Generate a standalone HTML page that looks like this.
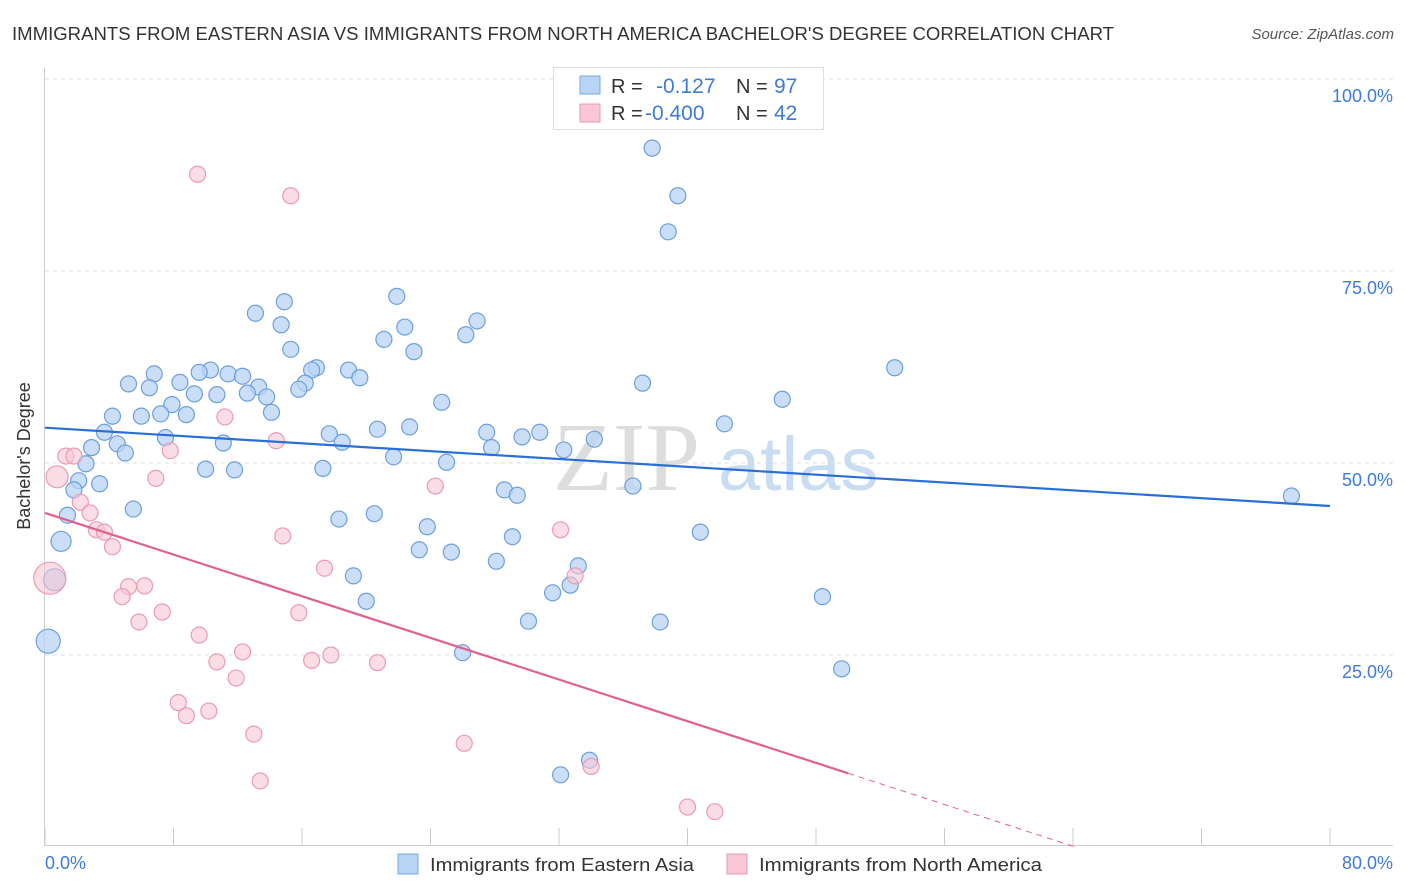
<!DOCTYPE html>
<html><head><meta charset="utf-8"><style>
body{margin:0;background:#fff;font-family:"Liberation Sans",sans-serif;}
svg{display:block}
</style></head><body>
<svg id="c" width="1406" height="892">
<text x="12" y="40" font-size="18" fill="#333" textLength="1102" lengthAdjust="spacingAndGlyphs">IMMIGRANTS FROM EASTERN ASIA VS IMMIGRANTS FROM NORTH AMERICA BACHELOR'S DEGREE CORRELATION CHART</text>
<text x="1394" y="39" font-size="15" fill="#555" font-style="italic" text-anchor="end">Source: ZipAtlas.com</text>
<g><text x="553" y="490" font-size="98" font-family="Liberation Serif" fill="#ddd">ZIP</text><text x="718" y="490" font-size="76" fill="#c8dcf2">atlas</text></g>
<g id="grid"></g>
<g id="pts"></g>
<g id="lines"></g>
<text x="30" y="456" font-size="18" fill="#333" text-anchor="middle" transform="rotate(-90 30 456)">Bachelor's Degree</text>
<text x="45" y="869" font-size="18" fill="#3f7bd4">0.0%</text>
<text x="1393" y="869" font-size="18" fill="#3f7bd4" text-anchor="end">80.0%</text>
<g>
<rect x="553.5" y="67.5" width="270" height="62" fill="#fff" stroke="#ddd"/>
<rect x="580" y="76" width="20" height="18" fill="#b8d4f4" stroke="#7aa8e0"/>
<rect x="580" y="104" width="20" height="18" fill="#f9c6d6" stroke="#eb9ab4"/>
<text y="93" font-size="20"><tspan x="611" fill="#333">R = </tspan><tspan x="656" fill="#3f7bd4" font-size="21">-0.127</tspan><tspan x="736" fill="#333">N = </tspan><tspan x="774" fill="#3f7bd4" font-size="21">97</tspan></text>
<text y="120" font-size="20"><tspan x="611" fill="#333">R = </tspan><tspan x="645" fill="#3f7bd4" font-size="21">-0.400</tspan><tspan x="736" fill="#333">N = </tspan><tspan x="774" fill="#3f7bd4" font-size="21">42</tspan></text>
</g>
<g>
<rect x="398" y="854" width="20" height="20" fill="#b8d4f4" stroke="#7aa8e0"/>
<text x="430" y="871" font-size="18" fill="#333" textLength="264" lengthAdjust="spacingAndGlyphs">Immigrants from Eastern Asia</text>
<rect x="727" y="854" width="20" height="20" fill="#f9c6d6" stroke="#eb9ab4"/>
<text x="759" y="871" font-size="18" fill="#333" textLength="283" lengthAdjust="spacingAndGlyphs">Immigrants from North America</text>
</g>
</svg>
<script>
const yTicks=[25,50,75,100];
const yTickLabels=["25.0%","50.0%","75.0%","100.0%"];
const xTicks=[0,8,16,24,32,40,48,56,64,72,80];
const blueX=[37.8,39.4,38.8,21.9,14.9,13.1,14.7,22.4,26.9,26.2,21.1,22.97,15.3,52.9,16.9,16.6,18.9,19.6,10.3,9.6,11.4,12.3,6.8,8.4,5.2,6.5,13.3,16.2,15.8,37.2,9.3,10.7,12.6,13.8,45.9,24.7,7.9,7.2,8.8,6.0,4.2,14.1,42.3,22.7,20.7,27.5,30.8,3.7,17.7,29.7,34.2,7.5,18.5,11.1,4.5,2.9,27.8,32.3,5.0,21.7,2.55,25.0,10.0,11.8,17.3,2.1,3.4,36.6,1.8,28.6,29.4,77.6,5.5,1.4,20.5,18.3,23.8,40.8,1.0,29.1,23.3,25.3,28.1,33.2,19.2,0.6,32.7,31.6,48.4,20.0,30.1,38.3,0.2,26.0,49.6,33.9,32.1];
const blueY=[91.0,84.8,80.1,71.7,71.0,69.5,68.0,67.7,68.5,66.7,66.1,64.5,64.8,62.4,62.4,62.1,62.1,61.1,62.1,61.8,61.6,61.3,61.6,60.5,60.3,59.8,59.9,60.4,59.6,60.4,59.0,58.9,59.1,58.6,58.3,57.9,57.6,56.4,56.3,56.1,56.1,56.6,55.1,54.7,54.4,54.0,54.0,54.0,53.8,53.4,53.1,53.3,52.7,52.6,52.5,52.0,52.0,51.7,51.3,50.8,49.9,50.1,49.2,49.1,49.3,47.7,47.3,47.0,46.5,46.5,45.8,45.7,44.0,43.2,43.4,42.7,41.7,41.0,39.8,40.4,38.7,38.4,37.2,36.6,35.3,34.8,34.1,33.1,32.6,32.0,29.4,29.3,26.8,25.3,23.2,11.3,9.4];
const blueR=[8,8,8,8,8,8,8,8,8,8,8,8,8,8,8,8,8,8,8,8,8,8,8,8,8,8,8,8,8,8,8,8,8,8,8,8,8,8,8,8,8,8,8,8,8,8,8,8,8,8,8,8,8,8,8,8,8,8,8,8,8,8,8,8,8,8,8,8,8,8,8,8,8,8,8,8,8,8,10,8,8,8,8,8,8,11,8,8,8,8,8,8,12,8,8,8,8];
const pinkX=[9.5,15.3,11.2,14.4,7.8,1.3,1.8,0.75,6.9,24.3,2.2,2.8,3.2,3.7,32.1,14.8,4.2,0.3,17.4,33.0,5.2,6.2,4.8,7.3,15.8,5.85,9.6,12.3,17.8,16.6,10.7,20.7,11.9,8.3,8.8,10.2,13.0,26.1,34.0,13.4,40.0,41.7];
const pinkY=[87.6,84.8,56.0,52.9,51.6,50.9,50.9,48.2,48.0,47.0,44.9,43.5,41.3,41.0,41.3,40.5,39.1,35.0,36.3,35.3,33.9,34.0,32.6,30.6,30.5,29.3,27.6,25.4,25.0,24.3,24.1,24.0,22.0,18.8,17.1,17.7,14.7,13.5,10.5,8.6,5.2,4.6];
const pinkR=[8,8,8,8,8,8,8,11,8,8,8,8,8,8,8,8,8,16,8,8,8,8,8,8,8,8,8,8,8,8,8,8,8,8,8,8,8,8,8,8,8,8];
const blueTrend=[54.6,44.4]; // y at x=0 and x=80
const pinkTrend=[43.5,-0.678]; // intercept, slope
const pinkSolidEnd=50;
const NS="http://www.w3.org/2000/svg";
const X=v=>45+v/80*1285, Y=v=>847-v*7.68;
function mk(t,a,p){const e=document.createElementNS(NS,t);for(const k in a)e.setAttribute(k,a[k]);p.appendChild(e);return e;}
const g=document.getElementById('grid');
yTicks.forEach((t,i)=>{
 const l=mk('line',{x1:45,x2:1393,y1:Y(t),y2:Y(t),stroke:'#ddd','stroke-dasharray':'4,4'},g);
 
 
 const tx=mk('text',{x:1393,y:Y(t)+23,'font-size':18,fill:'#3f7bd4','text-anchor':'end'},g);
 tx.textContent=yTickLabels[i];
 
 
});
const ax=mk('line',{x1:45,x2:1393,y1:845.5,y2:845.5,stroke:'#ccc'},g);


const ay=mk('line',{x1:44.5,x2:44.5,y1:68,y2:846,stroke:'#ccc'},g);


xTicks.forEach(t=>{
 const l=mk('line',{x1:X(t),x2:X(t),y1:828,y2:846,stroke:'#ccc'},g);
 
 
});
const pg=document.getElementById('pts');
blueX.forEach((v,i)=>{
 const c=mk('circle',{cx:X(v),cy:Y(blueY[i]),r:blueR[i],fill:'#b8d4f4','fill-opacity':0.75,stroke:'#6c9fdd','stroke-width':1.2},pg);
 
 
});
pinkX.forEach((v,i)=>{
 const c=mk('circle',{cx:X(v),cy:Y(pinkY[i]),r:pinkR[i],fill:'#f9c6d6','fill-opacity':0.6,stroke:'#eb9ab4','stroke-width':1.2},pg);
 
 
});
const lg=document.getElementById('lines');
const bl=mk('line',{x1:X(0),y1:Y(blueTrend[0]),x2:X(80),y2:Y(blueTrend[1]),stroke:'#2a6fd6','stroke-width':2.2},lg);


const pz=-pinkTrend[0]/pinkTrend[1];
const pl=mk('line',{x1:X(0),y1:Y(pinkTrend[0]),x2:X(pinkSolidEnd),y2:Y(pinkTrend[0]+pinkTrend[1]*pinkSolidEnd),stroke:'#e0608f','stroke-width':2.2},lg);


const pd=mk('line',{x1:X(pinkSolidEnd),y1:Y(pinkTrend[0]+pinkTrend[1]*pinkSolidEnd),x2:X(pz),y2:Y(0),stroke:'#e0608f','stroke-width':1,'stroke-dasharray':'6,5'},lg);


</script>
</body></html>
